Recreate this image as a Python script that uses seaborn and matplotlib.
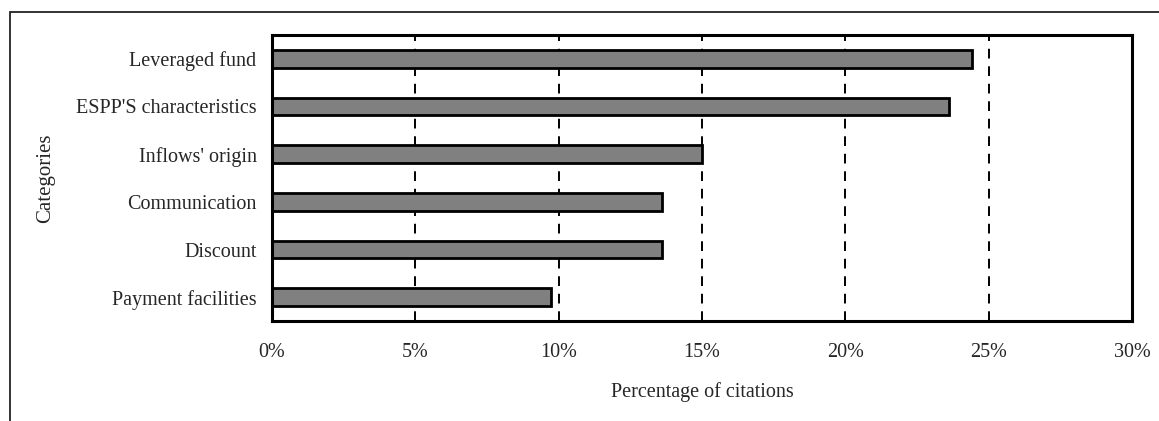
import matplotlib
matplotlib.use("Agg")
import matplotlib.pyplot as plt
import matplotlib.patches as mpatches
import seaborn as sns
import pandas as pd

categorias = ["Leveraged fund", "ESPP'S characteristics", "Inflows' origin",
              "Communication", "Discount", "Payment facilities"]
percentuais = [24.4, 23.6, 15.0, 13.6, 13.6, 9.75]
xticks = [0, 5, 10, 15, 20, 25, 30]

df = pd.DataFrame({"Categories": categorias, "pct": percentuais})

sns.set_style("white")
plt.rcParams["font.family"] = ["Liberation Serif", "DejaVu Serif"]

fig = plt.figure(figsize=(11.59, 4.21), dpi=100)
ax = fig.add_axes([0.2345, 0.2375, 0.7425, 0.6794])

sns.barplot(data=df, x="pct", y="Categories", orient="h", color="#808080",
            saturation=1, edgecolor="black", linewidth=2, width=0.37, ax=ax)

ax.set_xlim(0, 30)
ax.set_xticks(xticks)
ax.set_xticklabels([f"{v}%" for v in xticks], fontsize=14.5)
ax.xaxis.grid(True, linestyle=(0, (5, 4)), color="black", linewidth=1.4)
ax.set_axisbelow(True)

for s in ax.spines.values():
    s.set_visible(True)
    s.set_color("black")
    s.set_linewidth(2.2)

ax.tick_params(axis="x", direction="out", length=5, width=1.5, pad=11, color="black")
ax.tick_params(axis="y", which="major", length=0, pad=11, labelsize=14.5)
ax.set_yticks([i - 0.5 for i in range(len(categorias) + 1)], minor=True)
ax.tick_params(axis="y", which="minor", direction="out", length=5, width=1.5, color="black")

ax.set_xlabel("Percentage of citations", fontsize=14.5)
ax.set_ylabel("Categories", fontsize=15)
ax.xaxis.set_label_coords(0.5, -0.215)
ax.yaxis.set_label_coords(-0.252, 0.5)

# moldura externa (area do grafico cortada)
moldura = mpatches.Rectangle((10 / 1159, -0.5), 2, 0.5 + 1 - 12 / 421,
                             transform=fig.transFigure, fill=False,
                             edgecolor="#222222", linewidth=1.3, clip_on=False)
fig.add_artist(moldura)

plt.savefig("out.png", dpi=100)
plt.close()
